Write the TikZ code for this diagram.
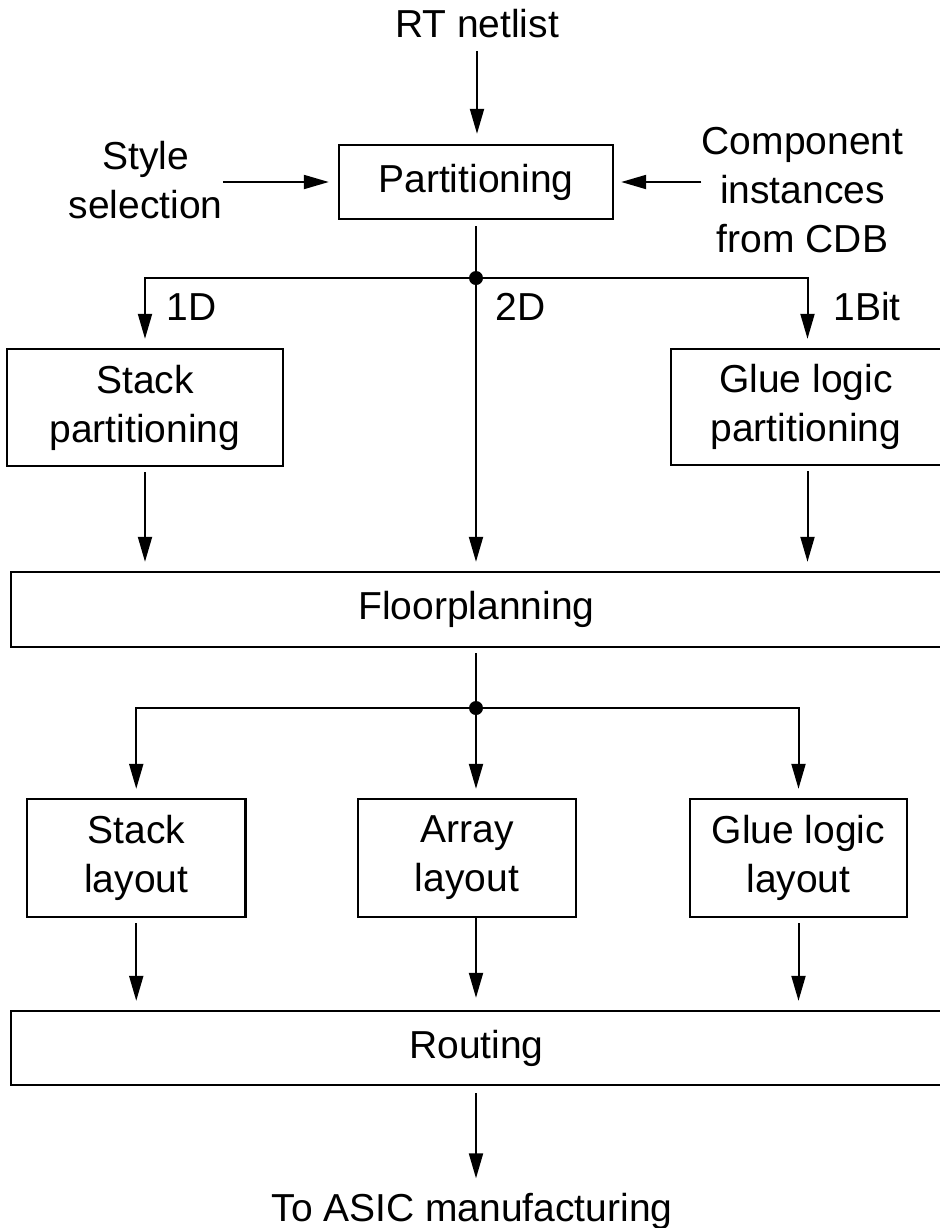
\documentclass[tikz,border=0pt]{standalone}
\usepackage{fontspec}
\setmainfont{Liberation Sans}
\usetikzlibrary{arrows.meta}
\newcommand{\diagfont}{\fontsize{19.5}{24.5}\selectfont}
\begin{document}
\begin{tikzpicture}[
  x=0.5pt, y=-0.5pt,
  lbl/.style={inner sep=0pt, font=\diagfont, align=center},
  box/.style={draw, line width=1.2pt, inner sep=0pt, font=\diagfont, align=center},
  conn/.style={line width=1pt},
  arr/.style={line width=1pt, -{Triangle[length=12.5pt,width=7pt]}},
  junction/.style={circle, fill, inner sep=0pt, minimum size=7pt}
]
\useasboundingbox (0,0) rectangle (939,1228);

% inputs
\node[lbl, anchor=base] (rt) at (477,37) {RT netlist};
\node[lbl] (style) at (145.5,180) {Style\\selection};
\node[lbl] (comp) at (802.5,190) {Component\\instances\\from CDB};

% first stage
\node[box, minimum width=137pt, minimum height=37pt] (part) at (476,182) {Partitioning};
\node[junction] (j1) at (476,278) {};

\node[box, minimum width=138pt, minimum height=58.5pt] (sp) at (145,407.5) {Stack\\partitioning};
\node[box, minimum width=135pt, minimum height=58pt] (gp) at (806,407) {Glue logic\\partitioning};

\node[box, minimum width=465.5pt, minimum height=37.5pt] (fp) at (476.5,609.5) {Floorplanning};
\node[junction] (j2) at (476,708) {};

% layout stage
\node[box, minimum width=109.25pt, minimum height=59pt] (sl) at (136.25,858) {Stack\\layout};
\node[box, minimum width=109pt, minimum height=59pt] (al) at (467,858) {Array\\layout};
\node[box, minimum width=108.5pt, minimum height=59pt] (gl) at (798.5,858) {Glue logic\\layout};

\node[box, minimum width=465.5pt, minimum height=37pt] (ro) at (476.5,1048) {Routing};
\node[lbl, anchor=base] (asic) at (472,1221) {To ASIC manufacturing};

% branch labels
\node[lbl, anchor=base west] (l1d) at (166,320) {1D};
\node[lbl, anchor=base west] (l2d) at (495,320) {2D};
\node[lbl, anchor=base west] (l1b) at (833,320) {1Bit};

% connectors into partitioning
\draw[arr, shorten <=6.5pt, shorten >=5pt] (rt.south) -- (rt.south |- part.north);
\draw[arr, shorten >=4.5pt] (style.east |- part.west) -- (part.west);
\draw[arr, shorten >=3.5pt] (comp.west |- part.east) -- (part.east);

% partitioning fan-out
\draw[conn, shorten <=3pt] (part.south) -- (j1);
\draw[arr, shorten >=4.5pt] (j1) -| (sp.north);
\draw[arr, shorten >=4.5pt] (j1) -| ([xshift=0.75pt]gp.north);
\draw[arr, shorten >=4.5pt] (j1) -- (j1 |- fp.north);

\draw[arr, shorten <=2.5pt, shorten >=4.5pt] (sp.south) -- (sp.south |- fp.north);
\draw[arr, shorten <=2.5pt, shorten >=4.5pt] ([xshift=0.75pt]gp.south) -- ([xshift=0.75pt]gp.south |- fp.north);

% floorplanning fan-out
\draw[conn, shorten <=2.5pt] (fp.south -| j2) -- (j2);
\draw[arr, shorten >=4.5pt] (j2) -| (sl.north);
\draw[arr, shorten >=4.5pt] (j2) -- (j2 |- al.north);
\draw[arr, shorten >=4.5pt] (j2) -| (gl.north);

% into routing
\draw[arr, shorten <=2.5pt, shorten >=4.5pt] (sl.south) -- (sl.south |- ro.north);
\draw[arr, shorten >=6pt] (j2 |- al.south) -- (j2 |- ro.north);
\draw[arr, shorten <=2.5pt, shorten >=4.5pt] (gl.south) -- (gl.south |- ro.north);

\draw[arr, shorten <=3.5pt, shorten >=7pt] (ro.south -| j2) -- (j2 |- asic.north);
\end{tikzpicture}
\end{document}
